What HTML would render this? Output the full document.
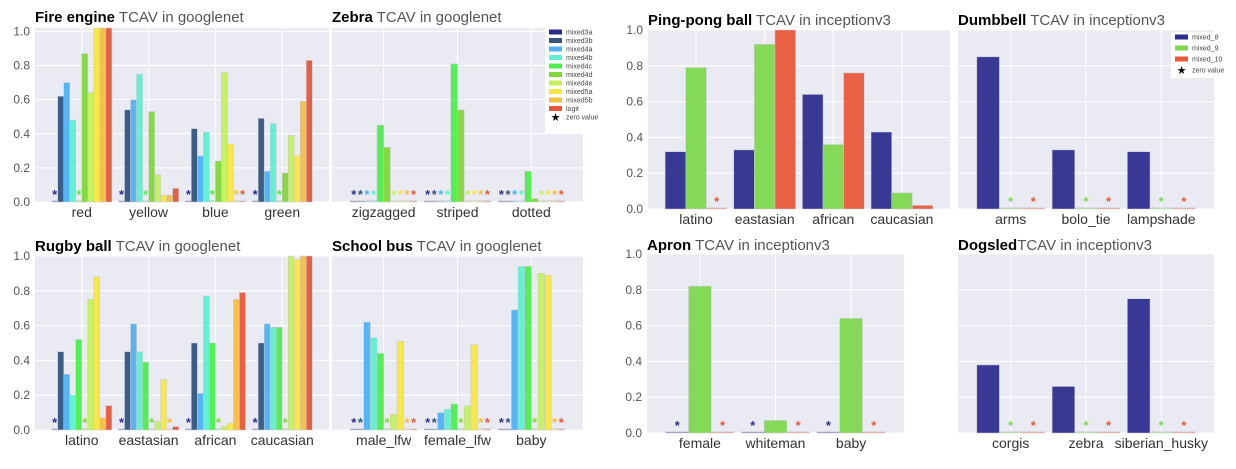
<!DOCTYPE html>
<html><head><meta charset="utf-8"><style>
html,body{margin:0;padding:0;background:#fff;}
svg{display:block;font-family:"Liberation Sans","DejaVu Sans",sans-serif;}
</style></head><body>
<svg id="fig" width="1236" height="469" viewBox="0 0 1236 469" xmlns="http://www.w3.org/2000/svg"></svg>
<script>
// ---- data ----
const gnLayers = ["mixed3a","mixed3b","mixed4a","mixed4b","mixed4c","mixed4d","mixed4e","mixed5a","mixed5b","logit"];
const gnColors = ["#2b2f8c","#33557e","#50b2f4","#5ef0d2","#4cef4c","#82d83a","#c3f15c","#f8e642","#f2c043","#e8593a"];
const ivLayers = ["mixed_8","mixed_9","mixed_10"];
const ivColors = ["#2d2f8e","#7ed94e","#e85a3a"];
const yTicks = [0.0,0.2,0.4,0.6,0.8,1.0];
const yTickLabels = ["0.0","0.2","0.4","0.6","0.8","1.0"];

const fireCats = ["red","yellow","blue","green"];
const fireVals = [
  [0,0.62,0.70,0.48,0,0.87,0.64,1.02,1.02,1.02],
  [0,0.54,0.60,0.75,0,0.53,0.16,0.04,0.04,0.08],
  [0,0.43,0.27,0.41,0,0.24,0.76,0.34,0,0],
  [0,0.49,0.18,0.46,0,0.17,0.39,0.27,0.59,0.83]];
const zebraCats = ["zigzagged","striped","dotted"];
const zebraVals = [
  [0,0,0,0,0.45,0.32,0,0,0,0],
  [0,0,0,0,0.81,0.54,0,0,0,0],
  [0,0,0,0,0.18,0.02,0,0,0,0]];
const rugbyCats = ["latino","eastasian","african","caucasian"];
const rugbyVals = [
  [0,0.45,0.32,0.20,0.52,0,0.75,0.88,0.07,0.14],
  [0,0.45,0.61,0.45,0.39,0,0.05,0.29,0,0.02],
  [0,0.50,0.21,0.77,0.50,0,0.02,0.04,0.75,0.79],
  [0,0.50,0.61,0.59,0.59,0,1.0,0.98,1.0,1.0]];
const busCats = ["male_lfw","female_lfw","baby"];
const busVals = [
  [0,0,0.62,0.53,0.44,0,0.09,0.51,0,0],
  [0,0,0.10,0.12,0.15,0,0.14,0.49,0,0],
  [0,0,0.69,0.94,0.94,0,0.90,0.89,0,0]];
const pingCats = ["latino","eastasian","african","caucasian"];
const pingVals = [[0.32,0.79,0],[0.33,0.92,1.0],[0.64,0.36,0.76],[0.43,0.09,0.02]];
const dumbCats = ["arms","bolo_tie","lampshade"];
const dumbVals = [[0.85,0,0],[0.33,0,0],[0.32,0,0]];
const apronCats = ["female","whiteman","baby"];
const apronVals = [[0,0.82,0],[0,0.07,0],[0,0.64,0]];
const dogCats = ["corgis","zebra","siberian_husky"];
const dogVals = [[0.38,0,0],[0.26,0,0],[0.75,0,0]];

// ---- drawing ----
const NS = "http://www.w3.org/2000/svg";
const fig = document.getElementById('fig');
function mk(tag, attrs, parent){
  const e = document.createElementNS(NS, tag);
  for (const k in attrs) e.setAttribute(k, attrs[k]);
  (parent||fig).appendChild(e);
  return e;
}

function panel(p){
  const g = mk('g', {});
  
  
  const W = p.x1 - p.x0;
  const unit = (p.y0 - p.top) / p.ymax;
  const yS = v => p.y0 - v*unit;
  const n = p.cats.length;
  const s = W/(n+0.4);
  const xC = i => p.x0 + (0.7+i)*s;
  const bg = mk('rect', {x:p.x0, y:p.top, width:W, height:p.y0-p.top, fill:'#eaeaf2'}, g);
  
  
  yTicks.forEach((t,k)=>{
    const gl = mk('line', {x1:p.x0, x2:p.x1, y1:yS(t), y2:yS(t), stroke:'#fff', 'stroke-width':1}, g);
    
    
    if (p.yLabels){
      const tl = mk('text', {x:p.x0-5, y:yS(t)+4, 'text-anchor':'end', 'font-size':12, fill:'#555'}, g);
      tl.textContent = yTickLabels[k];
      
      
    }
  });
  p.cats.forEach((c,i)=>{
    const gl = mk('line', {x1:xC(i), x2:xC(i), y1:p.top, y2:p.y0, stroke:'#fff', 'stroke-width':1}, g);
    
    
  });
  p.cats.forEach((c,i)=>{
    const vals = p.vals[i];
    const m = vals.length;
    const bw = 0.9*s/m;
    const start = xC(i) - 0.45*s;
    vals.forEach((v,j)=>{
      const bx = start + j*bw;
      const h = Math.max(v*unit, 1.2);
      const r = mk('rect', {x:bx, y:p.y0-h, width:bw, height:h, fill:p.colors[j], 'fill-opacity':v>0?0.95:0.5, stroke:'#c8c8d0', 'stroke-width':0.5}, g);
      
      
      if (v === 0){
        const st = mk('text', {x:bx+bw/2, y:p.y0-3, 'text-anchor':'middle', 'font-size':13, 'font-weight':'bold', fill:p.colors[j]}, g);
        st.textContent = '*';
        
        
      }
    });
    const xl = mk('text', {x:xC(i), y:p.labY, 'text-anchor':'middle', 'font-size':14, fill:'#333'}, g);
    xl.textContent = c;
    
    
  });
  const t = mk('text', {x:p.x0, y:p.titleY, 'font-size':15, fill:'#555'}, g);
  
  
  const b = mk('tspan', {'font-weight':'bold', fill:'#000'}, t);
  b.textContent = p.bold;
  const r2 = mk('tspan', {}, t);
  r2.textContent = p.rest;
}

panel({name:'fire-engine', x0:35, x1:329, top:28, y0:202, ymax:1.02, cats:fireCats, vals:fireVals, colors:gnColors, layers:gnLayers, yLabels:true, labY:217, titleY:22, bold:'Fire engine', rest:' TCAV in googlenet'});
panel({name:'zebra', x0:332, x1:583, top:28, y0:202, ymax:1.02, cats:zebraCats, vals:zebraVals, colors:gnColors, layers:gnLayers, yLabels:false, labY:217, titleY:22, bold:'Zebra', rest:' TCAV in googlenet'});
panel({name:'rugby-ball', x0:35, x1:329, top:256, y0:430, ymax:1.0, cats:rugbyCats, vals:rugbyVals, colors:gnColors, layers:gnLayers, yLabels:true, labY:445, titleY:251, bold:'Rugby ball', rest:' TCAV in googlenet'});
panel({name:'school-bus', x0:332, x1:583, top:256, y0:430, ymax:1.0, cats:busCats, vals:busVals, colors:gnColors, layers:gnLayers, yLabels:false, labY:445, titleY:251, bold:'School bus', rest:' TCAV in googlenet'});
panel({name:'ping-pong-ball', x0:648, x1:950, top:30, y0:209, ymax:1.0, cats:pingCats, vals:pingVals, colors:ivColors, layers:ivLayers, yLabels:true, labY:224, titleY:25, bold:'Ping-pong ball', rest:' TCAV in inceptionv3'});
panel({name:'dumbbell', x0:958, x1:1214, top:30, y0:209, ymax:1.0, cats:dumbCats, vals:dumbVals, colors:ivColors, layers:ivLayers, yLabels:false, labY:224, titleY:25, bold:'Dumbbell', rest:' TCAV in inceptionv3'});
panel({name:'apron', x0:647, x1:904, top:254, y0:433, ymax:1.0, cats:apronCats, vals:apronVals, colors:ivColors, layers:ivLayers, yLabels:true, labY:448, titleY:250, bold:'Apron', rest:' TCAV in inceptionv3'});
panel({name:'dogsled', x0:958, x1:1214, top:254, y0:433, ymax:1.0, cats:dogCats, vals:dogVals, colors:ivColors, layers:ivLayers, yLabels:false, labY:448, titleY:250, bold:'Dogsled', rest:'TCAV in inceptionv3'});

function legend(name, x, y, w, h, layers, colors, step, sw, fs){
  const g = mk('g', {});
  
  
  mk('rect', {x:x, y:y, width:w, height:h, fill:'#fff'}, g);
  layers.concat(['zero value']).forEach((l,i)=>{
    const cy = y + 5 + i*step;
    const e = mk('g', {}, g);
    
    
    if (i < layers.length){
      mk('rect', {x:x+4, y:cy-2.5, width:sw, height:5, fill:colors[i]}, e);
    } else {
      const st = mk('text', {x:x+4+sw/2, y:cy+4, 'text-anchor':'middle', 'font-size':11, 'font-weight':'bold', fill:'#000'}, e);
      st.textContent = '★';
    }
    const t = mk('text', {x:x+8+sw, y:cy+2.5, 'font-size':fs, fill:'#444'}, e);
    t.textContent = l;
  });
}
legend('googlenet-legend', 545, 27, 53, 106, gnLayers, gnColors, 8.5, 13, 7);
legend('inceptionv3-legend', 1171, 32, 56, 46, ivLayers, ivColors, 11, 13, 7);
</script>
</body></html>
